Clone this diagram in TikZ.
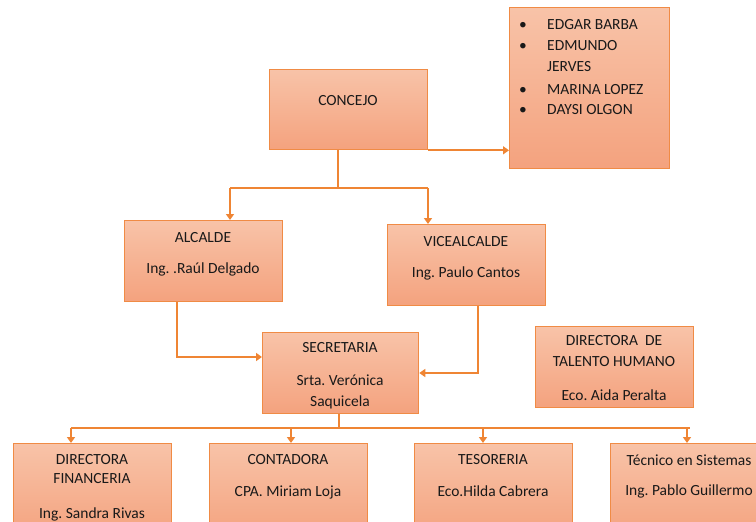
\documentclass[tikz,border=0pt]{standalone}
\usepackage{fontspec}
\setmainfont{Carlito}
\frenchspacing
\usetikzlibrary{arrows.meta,calc}
\definecolor{boxtop}{HTML}{F8C3A8}
\definecolor{boxbot}{HTML}{F4A27E}
\definecolor{edgec}{HTML}{F08B45}
\definecolor{connc}{HTML}{EF8534}
\begin{document}
\begin{tikzpicture}[x=1pt,y=-1pt,
 box/.style={rectangle, draw=edgec, line width=1.3pt, top color=boxtop, bottom color=boxbot, inner sep=0, anchor=north west},
 lbl/.style={anchor=base, inner sep=0, font=\fontsize{15.5}{19}\selectfont, text=black!90},
 lblw/.style={lbl, anchor=base west},
 conn/.style={draw=connc, line width=2.2pt},
 arr/.style={conn, -{Triangle[width=8pt,length=6pt]}}]
\clip (0,0) rectangle (756,522);
\fill[white] (0,0) rectangle (756,522);
% boxes
\node[box, minimum width=158pt, minimum height=80pt] (concejo) at (269,69) {};
\node[box, minimum width=160pt, minimum height=161pt] (list) at (509,7) {};
\node[box, minimum width=158pt, minimum height=81pt] (alcalde) at (124,220) {};
\node[box, minimum width=158pt, minimum height=81pt] (vice) at (387,224) {};
\node[box, minimum width=156pt, minimum height=81pt] (secretaria) at (262,332) {};
\node[box, minimum width=158pt, minimum height=81pt] (talento) at (535,326) {};
\node[box, minimum width=158pt, minimum height=95pt] (dirfin) at (13,443) {};
\node[box, minimum width=158pt, minimum height=95pt] (contadora) at (209,443) {};
\node[box, minimum width=158pt, minimum height=95pt] (tesoreria) at (414,443) {};
\node[box, minimum width=158pt, minimum height=95pt] (tecnico) at (610,443) {};
% texts
\node[lbl] (tconcejo) at (348,105) {CONCEJO};
\node[lbl] (bu1) at (523,29) {•};
\node[lbl] (bu2) at (523,50) {•};
\node[lbl] (bu3) at (523,94) {•};
\node[lbl] (bu4) at (523,114) {•};
\node[lblw] (m1) at (547,29) {EDGAR BARBA};
\node[lblw] (m2) at (547,50) {EDMUNDO};
\node[lblw] (m2b) at (547,71) {JERVES};
\node[lblw] (m3) at (547,94) {MARINA LOPEZ};
\node[lblw] (m4) at (547,114) {DAYSI OLGON};
\node[lbl] (ta1) at (203,242) {ALCALDE};
\node[lbl] (ta2) at (203,273) {Ing. .Raúl Delgado};
\node[lbl] (tv1) at (466,246) {VICEALCALDE};
\node[lbl] (tv2) at (466,277) {Ing. Paulo Cantos};
\node[lbl] (ts1) at (340,352) {SECRETARIA};
\node[lbl] (ts2) at (340,385) {Srta. Verónica};
\node[lbl] (ts3) at (340,406) {Saquicela};
\node[lbl] (tt1) at (614,345.5) {DIRECTORA\ \ DE};
\node[lbl] (tt2) at (614,366) {TALENTO HUMANO};
\node[lbl] (tt3) at (614,400.5) {Eco. Aida Peralta};
\node[lbl] (tf1) at (92,464) {DIRECTORA};
\node[lbl] (tf2) at (92,483.5) {FINANCERIA};
\node[lbl] (tf3) at (92,518) {Ing. Sandra Rivas};
\node[lbl] (tc1) at (288,464) {CONTADORA};
\node[lbl] (tc2) at (288,496.5) {CPA. Miriam Loja};
\node[lbl] (te1) at (493,464) {TESORERIA};
\node[lbl] (te2) at (493,496) {Eco.Hilda Cabrera};
\node[lbl] (tq1) at (689,465) {Técnico en Sistemas};
\node[lbl] (tq2) at (689,495) {Ing. Pablo Guillermo};
% connectors
\coordinate (j) at (338,188);
\coordinate (bA) at (230,188);
\coordinate (bV) at (428,188);
\draw[arr] (concejo.south east) -- (concejo.south east -| list.west);
\draw[conn] (concejo.south -| j) -- (j);
\draw[conn] (bA) -- (bV);
\draw[arr] (bA) -- (bA |- alcalde.north);
\draw[arr] (bV) -- (bV |- vice.north);
\coordinate (ax) at (177,357);
\draw[arr] (alcalde.south -| ax) -- (ax) -- (ax -| secretaria.west);
\coordinate (vx) at (478,373);
\draw[arr] (vice.south -| vx) -- (vx) -- (vx -| secretaria.east);
\coordinate (sx) at (339,428);
\draw[conn] (secretaria.south -| sx) -- (sx);
\coordinate (b1) at (71,428);
\coordinate (b2) at (291,428);
\coordinate (b3) at (483,428);
\coordinate (b4) at (690,428);
\draw[conn] (b1) -- (b4);
\draw[arr] (b1) -- (b1 |- dirfin.north);
\draw[arr] (b2) -- (b2 |- contadora.north);
\draw[arr] (b3) -- (b3 |- tesoreria.north);
\draw[arr] ([xshift=-3pt]b4) -- ([xshift=-3pt]b4 |- tecnico.north);
\end{tikzpicture}
\end{document}
